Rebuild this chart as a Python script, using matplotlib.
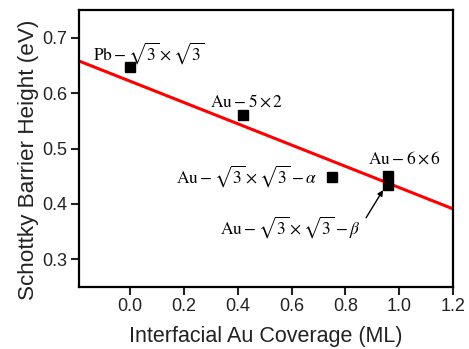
import numpy as np
import matplotlib.pyplot as plt

# --- data ---
coverage = [0.0, 0.42, 0.75, 0.96, 0.96]
barrier = [0.648, 0.56, 0.448, 0.45, 0.435]
fit_intercept = 0.6215
fit_slope = -0.192

xticks = [0.0, 0.2, 0.4, 0.6, 0.8, 1.0, 1.2]
yticks = [0.3, 0.4, 0.5, 0.6, 0.7]

plt.rcParams['font.family'] = ['Liberation Sans', 'DejaVu Sans']
plt.rcParams['mathtext.fontset'] = 'stix'

fig = plt.figure(figsize=(4.69, 3.49), dpi=100)
ax = fig.add_axes([79 / 469, 1 - 287 / 349, (453 - 79) / 469, (287 - 10) / 349])

xl = (-0.19, 1.2)
xf = np.array(xl)
ax.plot(xf, fit_intercept + fit_slope * xf, color='#ff0000', lw=2.2, zorder=2)
ax.plot(coverage, barrier, 's', color='black', ms=7.2, zorder=3)

ax.set_xlim(*xl)
ax.set_ylim(0.25, 0.75)
ax.set_xticks(xticks)
ax.set_yticks(yticks)
ax.set_xticklabels([f"{v:.1f}" for v in xticks])
ax.set_yticklabels([f"{v:.1f}" for v in yticks])
ax.tick_params(direction='out', length=5.5, width=1.5, labelsize=13, pad=3,
               top=False, right=False, colors='black')
ax.tick_params(axis='x', pad=2.5)
ax.tick_params(colors='#222222', which='both')
for s in ax.spines.values():
    s.set_linewidth(1.6)

ax.set_xlabel("Interfacial Au Coverage (ML)", fontsize=15.5, color='#222222')
ax.set_ylabel("Schottky Barrier Height (eV)", fontsize=16.2, color='#222222')
ax.xaxis.set_label_coords(0.5, -0.177)
ax.xaxis.label.set_verticalalignment('center')
ax.yaxis.set_label_coords(-0.134, 0.458)
ax.yaxis.label.set_verticalalignment('center')

tk = dict(fontsize=12.5, family='Liberation Serif', va='baseline')
ax.text(-0.137, 0.66, r"$\mathrm{Pb}-\sqrt{3}\times\sqrt{3}$", ha='left', **tk)
ax.text(0.297, 0.575, r"$\mathrm{Au}-5\times2$", ha='left', **tk)
ax.text(0.695, 0.438, r"$\mathrm{Au}-\sqrt{3}\times\sqrt{3}-\alpha$", ha='right', **tk)
ax.text(0.885, 0.472, r"$\mathrm{Au}-6\times6$", ha='left', **tk)
ax.text(0.335, 0.347, r"$\mathrm{Au}-\sqrt{3}\times\sqrt{3}-\beta$", ha='left', **tk)
ax.annotate("", xy=(0.94, 0.425), xytext=(0.877, 0.375),
            arrowprops=dict(arrowstyle='-|>', color='black', lw=1.0,
                            mutation_scale=8, shrinkA=0, shrinkB=0))

fig.savefig("out.png", dpi=100)
